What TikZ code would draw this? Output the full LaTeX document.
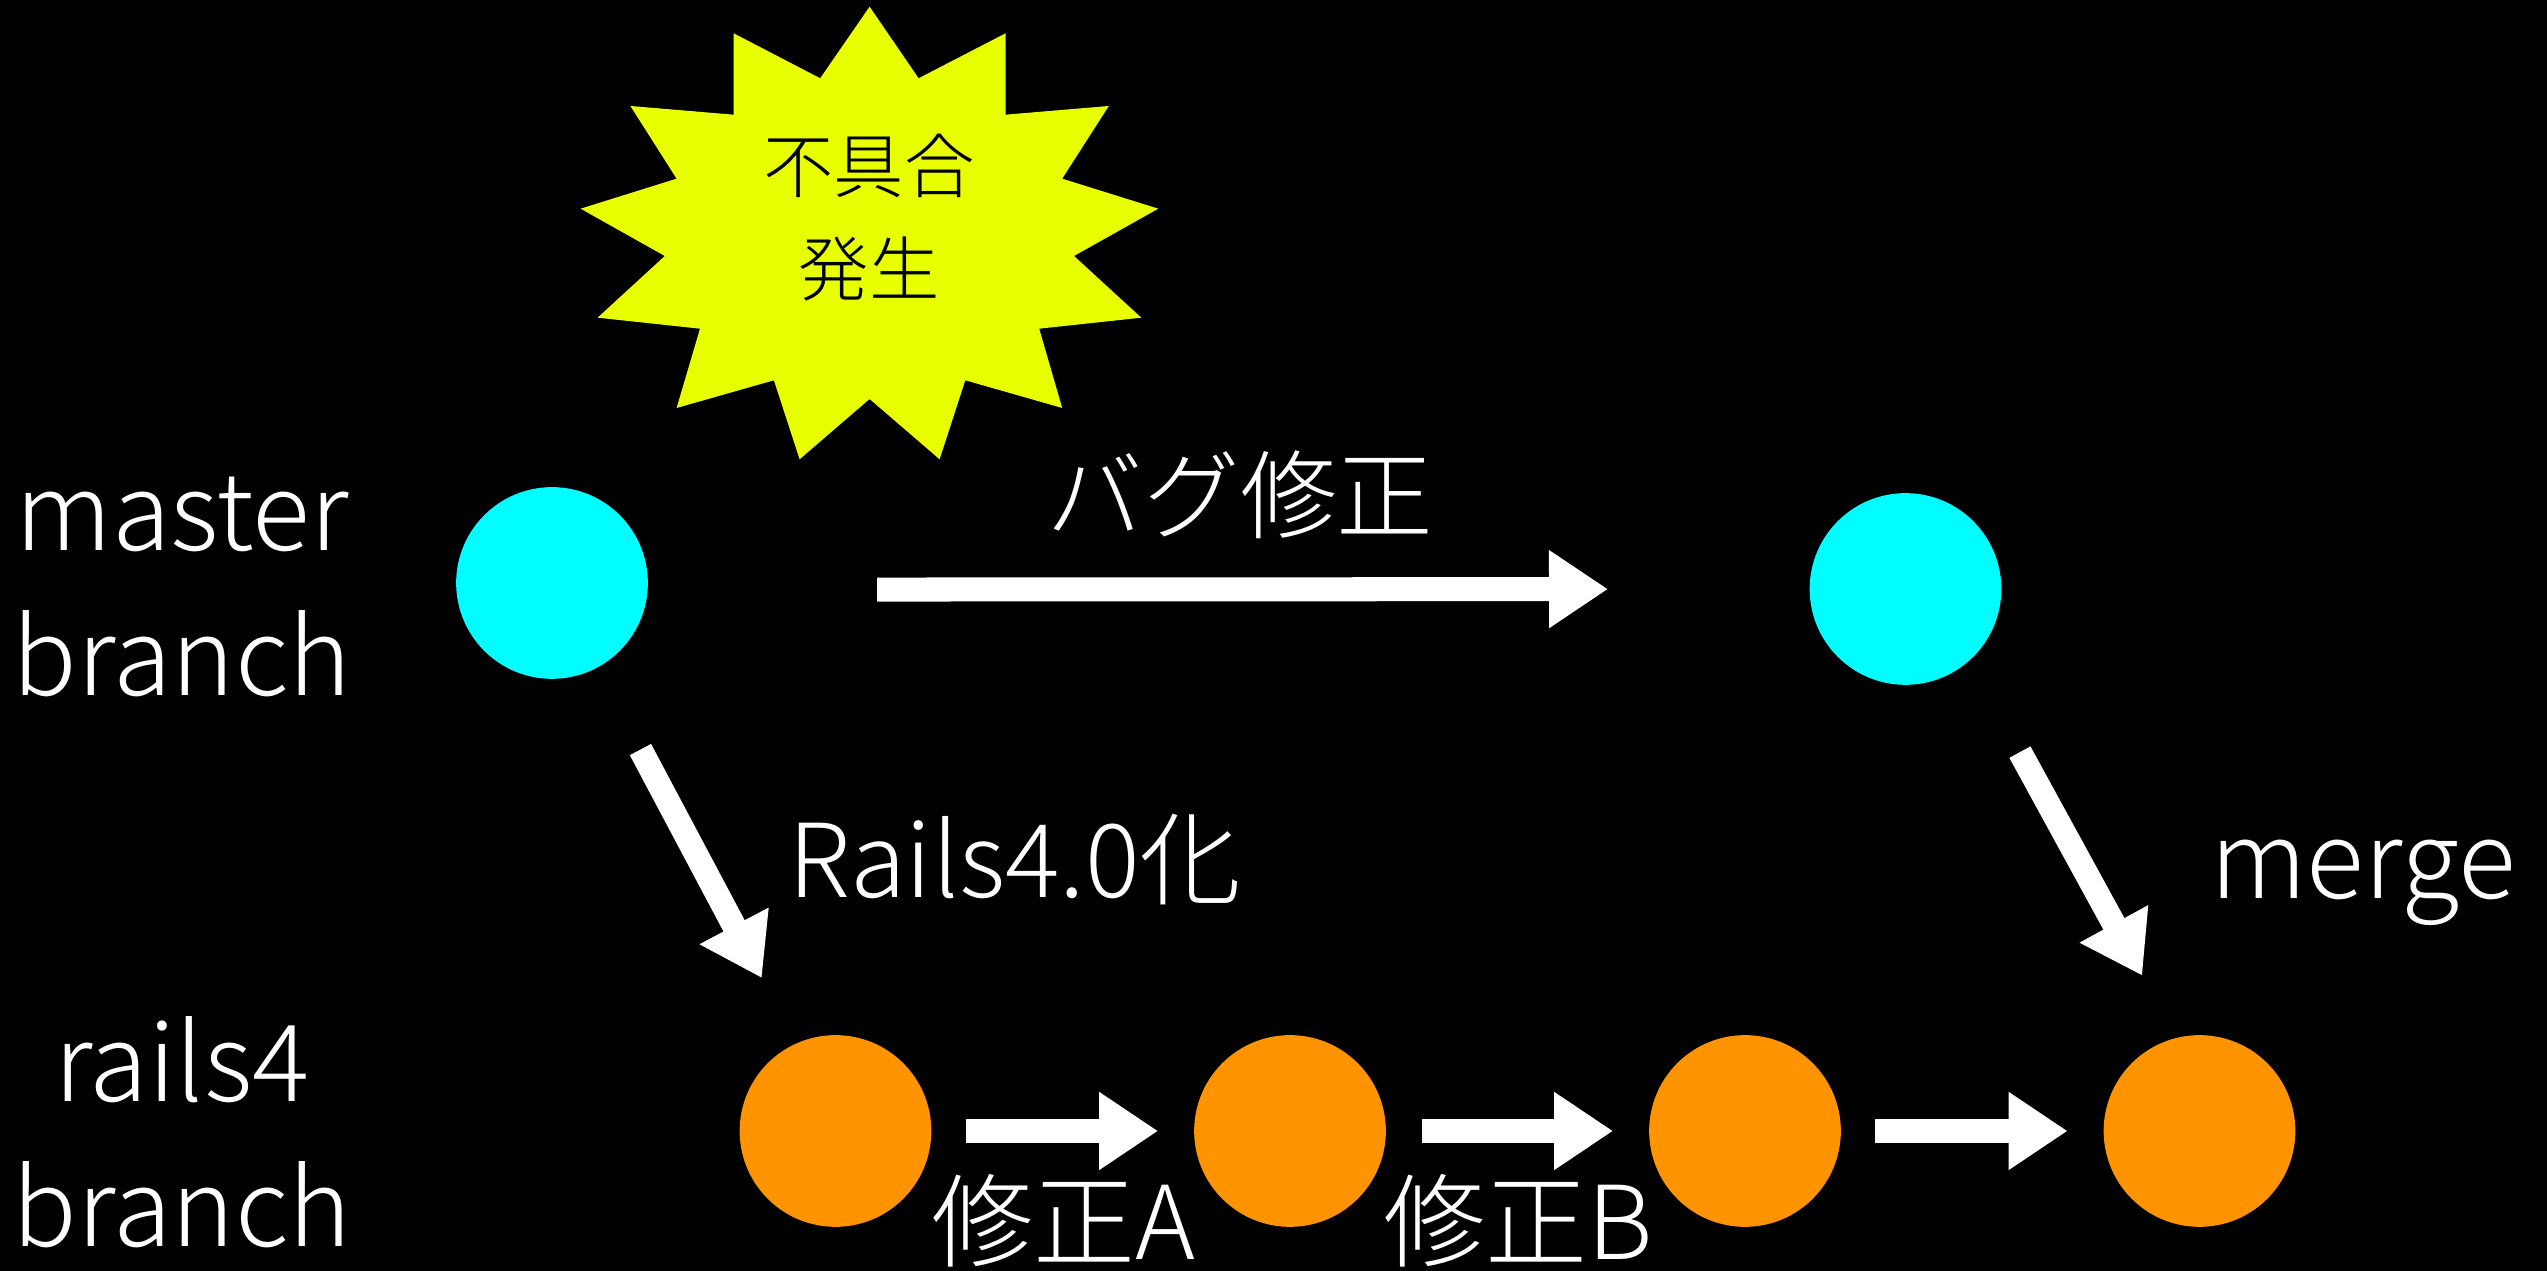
\documentclass[tikz,border=0pt]{standalone}
\usepackage{fontspec}
\setmainfont{Noto Sans CJK JP Light}
\usetikzlibrary{arrows.meta}
\definecolor{mcyan}{HTML}{00FDFF}
\definecolor{morange}{HTML}{FF9300}
\definecolor{myellow}{HTML}{E8FF00}
\tikzset{
  commit/.style={circle,minimum size=1.916cm,inner sep=0pt,outer sep=0pt,fill=#1},
  blockarrow/.style={draw=white,line width=2.4mm,-{Triangle[length=5.9mm,width=7.4mm,fill=white]}},
  biglabel/.style={text=white,inner sep=0pt,align=center,font=\fontsize{30.4}{41.2}\selectfont},
  cjklabel/.style={text=white,inner sep=0pt,align=center,font=\fontsize{27.5}{40}\selectfont},
  midlabel/.style={text=white,inner sep=0pt,align=center,font=\fontsize{29}{41}\selectfont},
  smalllabel/.style={text=black,inner sep=0pt,align=center,font=\fontsize{20}{29.3}\selectfont}
}
\begin{document}
\begin{tikzpicture}[x=0.01cm,y=-0.01cm]
\fill[black] (0,0) rectangle (2547,1271);
\useasboundingbox (0,0) rectangle (2547,1271);
\fill[myellow] (869.6,6.7)--(918.6,78.3)--(1005.6,33.3)--(1005.6,114.7)--(1108.8,106)--(1062.2,178.7)--(1158.3,208.7)--(1074,256)--(1141.3,317.7)--(1039.2,328.7)--(1062.2,408)--(965.3,380.3)--(939.6,459.3)--(869.6,399)--(799.6,459.3)--(773.9,380.3)--(676.6,408)--(700,328.7)--(597.6,317.7)--(664.8,256)--(580.6,208.7)--(676.6,178.7)--(630.4,106)--(733.6,114.7)--(733.6,33.3)--(820.2,78.3)--cycle;
\node[smalllabel] (bug) at (869,218) {不具合\\発生};
\node[commit=mcyan] (m1) at (552,583) {};
\node[commit=mcyan] (m2) at (1905.5,589) {};
\node[commit=morange] (r1) at (835.5,1131) {};
\node[commit=morange] (r2) at (1290,1131) {};
\node[commit=morange] (r3) at (1745,1131) {};
\node[commit=morange] (r4) at (2199.5,1131) {};
\draw[blockarrow,shorten <=2.294cm,shorten >=2.015cm] (m1.-4) -- (m2.180);
\draw[blockarrow,shorten <=1.885cm,shorten >=0.74cm] (m1.center) -- (r1.114);
\draw[blockarrow,shorten <=1.047cm,shorten >=0.71cm] (m2.-48.6) -- (r4.104.5);
\draw[blockarrow,shorten <=0.343cm,shorten >=0.36cm] (r1.east) -- (r2.west);
\draw[blockarrow,shorten <=0.36cm,shorten >=0.36cm] (r2.east) -- (r3.west);
\draw[blockarrow,shorten <=0.343cm,shorten >=0.36cm] (r3.east) -- (r4.west);
\node[biglabel] (lm) at (182,587) {master\\branch};
\node[biglabel] (lr) at (182,1132) {rails4\\branch};
\node[cjklabel] (t1) at (1240,495) {バグ修正};
\node[midlabel] (t2) at (1015,860) {Rails4.0化};
\node[biglabel] (t3) at (2363,883) {merge};
\node[midlabel] (t4) at (1063,1221) {修正A};
\node[midlabel] (t5) at (1518,1221) {修正B};
\end{tikzpicture}
\end{document}
